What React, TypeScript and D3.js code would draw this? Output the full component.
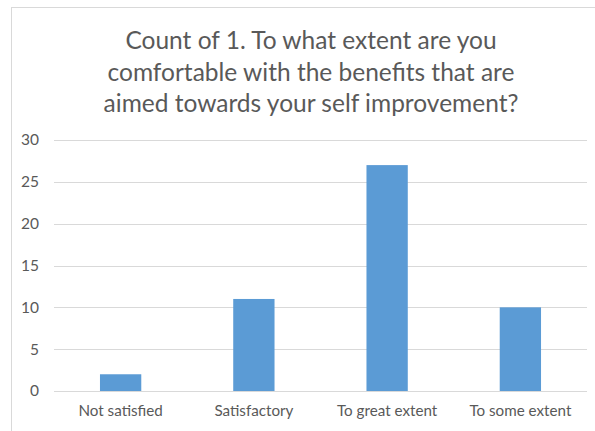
import { useEffect, useRef } from "react";
import * as d3 from "d3";

const categories = ["Not satisfied", "Satisfactory", "To great extent", "To some extent"];
const counts = [2, 11, 27, 10];
const yTicks = [0, 5, 10, 15, 20, 25, 30];
const titleLines = [
  "Count of 1. To what extent are you",
  "comfortable with the benefits that are",
  "aimed towards your self improvement?",
];

export default function App() {
  const ref = useRef<SVGSVGElement>(null);

  useEffect(() => {
    const width = 595;
    const height = 431;
    const margin = { top: 140, right: 8, bottom: 40, left: 54 };
    const font = "Lato, 'Open Sans', sans-serif";

    const svg = d3.select(ref.current);
    svg.selectAll("*").remove();
    svg.attr("viewBox", `0 0 ${width} ${height}`);

    svg.append("rect").attr("width", width).attr("height", height).attr("fill", "#fff");

    // chart frame, runs off the right and bottom edge
    svg
      .append("rect")
      .attr("x", 11.5)
      .attr("y", 7.5)
      .attr("width", width + 20)
      .attr("height", height + 20)
      .attr("fill", "none")
      .attr("stroke", "#d9d9d9");

    svg
      .append("g")
      .selectAll("text")
      .data(titleLines)
      .join("text")
      .attr("x", 311)
      .attr("y", (_, i) => 49 + i * 31.5)
      .attr("text-anchor", "middle")
      .attr("fill", "#595959")
      .attr("font-family", font)
      .attr("font-size", 24.5)
      .text((d) => d);

    const x = d3
      .scaleBand()
      .domain(categories)
      .range([margin.left, width - margin.right])
      .paddingInner(0.69)
      .paddingOuter(0.345);

    const y = d3
      .scaleLinear()
      .domain([0, 30])
      .range([height - margin.bottom, margin.top]);

    svg
      .append("g")
      .selectAll("line")
      .data(yTicks)
      .join("line")
      .attr("x1", margin.left)
      .attr("x2", width - margin.right)
      .attr("y1", (d) => Math.round(y(d)) + 0.5)
      .attr("y2", (d) => Math.round(y(d)) + 0.5)
      .attr("stroke", "#d9d9d9");

    svg
      .append("g")
      .selectAll("text")
      .data(yTicks)
      .join("text")
      .attr("x", 39)
      .attr("y", (d) => y(d))
      .attr("dy", "0.35em")
      .attr("text-anchor", "end")
      .attr("fill", "#595959")
      .attr("font-family", font)
      .attr("font-size", 15.5)
      .text((d) => d);

    svg
      .append("g")
      .selectAll("rect")
      .data(counts)
      .join("rect")
      .attr("x", (_, i) => x(categories[i]) as number)
      .attr("y", (d) => y(d))
      .attr("width", x.bandwidth())
      .attr("height", (d) => y(0) - y(d))
      .attr("fill", "#5b9bd5");

    svg
      .append("g")
      .selectAll("text")
      .data(categories)
      .join("text")
      .attr("x", (d) => (x(d) as number) + x.bandwidth() / 2)
      .attr("y", height - margin.bottom + 25)
      .attr("text-anchor", "middle")
      .attr("fill", "#595959")
      .attr("font-family", font)
      .attr("font-size", 15.2)
      .text((d) => d);
  }, []);

  return (
    <svg
      ref={ref}
      width={595}
      height={431}
      style={{ position: "absolute", left: 0, top: 0, display: "block" }}
    />
  );
}
